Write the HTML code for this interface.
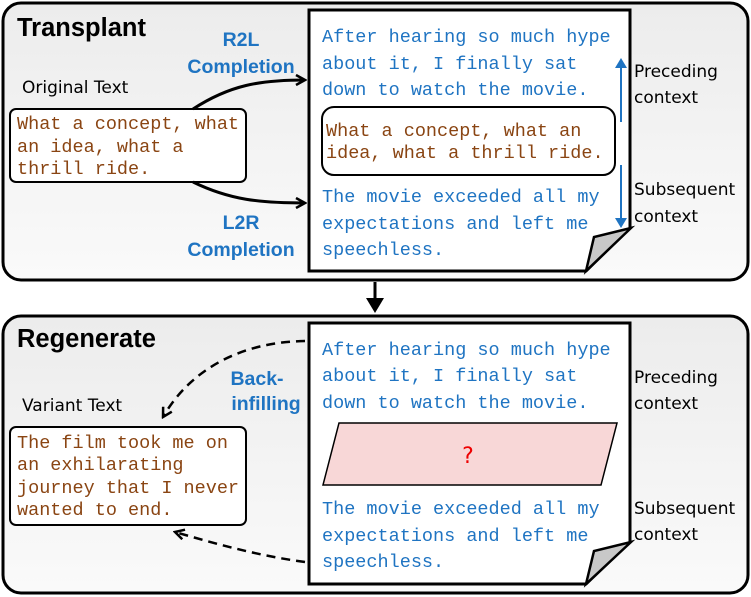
<!DOCTYPE html>
<html><head><meta charset="utf-8"><style>
html,body{margin:0;padding:0;background:#fff}
svg{display:block}
.m{font-family:"Liberation Mono",monospace;font-size:18.5px}
.b{fill:#1f74c2}.r{fill:#8a4513}
.s{font-family:"DejaVu Sans","Liberation Sans",sans-serif;font-size:17px;fill:#000}
.h{font-family:"Liberation Sans",sans-serif;font-weight:bold;font-size:25.5px}
.bl{font-family:"Liberation Sans",sans-serif;font-weight:bold;font-size:19.5px;fill:#1f74c2}
</style></head><body>
<svg width="751" height="597" viewBox="0 0 751 597" xmlns="http://www.w3.org/2000/svg">
<defs>
<linearGradient id="g" x1="0" y1="0" x2="0" y2="1"><stop offset="0" stop-color="#ececec"/><stop offset="1" stop-color="#fafafa"/></linearGradient>
<marker id="ah" markerWidth="12" markerHeight="12" refX="10" refY="6" orient="auto" markerUnits="userSpaceOnUse"><path d="M1,1 L10,6 L1,11" fill="none" stroke="#000" stroke-width="2.5"/></marker>
</defs>
<rect x="3" y="3" width="745" height="277" rx="18" fill="url(#g)" stroke="#000" stroke-width="3"/>
<rect x="3" y="316" width="745" height="277" rx="18" fill="url(#g)" stroke="#000" stroke-width="3"/>
<text x="17" y="36" class="h">Transplant</text>
<text x="17" y="347" class="h">Regenerate</text>
<line x1="375" y1="282" x2="375" y2="300" stroke="#000" stroke-width="3"/>
<path d="M366,298 L384,298 L375,313 z" fill="#000"/>
<path d="M309,10 L630,10 L630,228 L586,271 L309,271 z" fill="#fff" stroke="#000" stroke-width="3"/>
<path d="M586,271 L594,237 L631,228 z" fill="#c8c8c8" stroke="#000" stroke-width="2.5"/>
<g class="m b">
<text x="322" y="42">After hearing so much hype</text>
<text x="322" y="69">about it, I finally sat</text>
<text x="322" y="95">down to watch the movie.</text>
<text x="322" y="202">The movie exceeded all my</text>
<text x="322" y="229">expectations and left me</text>
<text x="322" y="255">speechless.</text>
</g>
<rect x="322" y="107" width="293" height="68" rx="12" fill="#fff" stroke="#000" stroke-width="2"/>
<g class="m r"><text x="326" y="136">What a concept, what an</text><text x="326" y="158">idea, what a thrill ride.</text></g>
<line x1="621" y1="122" x2="621" y2="66" stroke="#1f74c2" stroke-width="2"/>
<path d="M615,68 L627,68 L621,58 z" fill="#1f74c2"/>
<line x1="621" y1="165" x2="621" y2="220" stroke="#1f74c2" stroke-width="2"/>
<path d="M615,218 L627,218 L621,228 z" fill="#1f74c2"/>
<text x="634" y="77" class="s">Preceding</text><text x="634" y="103" class="s">context</text>
<text x="634" y="195" class="s">Subsequent</text><text x="634" y="222" class="s">context</text>
<text x="22" y="93" class="s">Original Text</text>
<rect x="10" y="109" width="236" height="73" rx="6" fill="#fff" stroke="#000" stroke-width="2"/>
<g class="m r"><text x="17" y="129">What a concept, what</text><text x="17" y="152">an idea, what a</text><text x="17" y="174">thrill ride.</text></g>
<path d="M193,109 C230,85 260,80 305,80" fill="none" stroke="#000" stroke-width="3" marker-end="url(#ah)"/>
<path d="M193,182 C230,200 260,203 305,203" fill="none" stroke="#000" stroke-width="3" marker-end="url(#ah)"/>
<text x="241" y="46" class="bl" text-anchor="middle">R2L</text>
<text x="241" y="73" class="bl" text-anchor="middle">Completion</text>
<text x="241" y="229" class="bl" text-anchor="middle">L2R</text>
<text x="241" y="256" class="bl" text-anchor="middle">Completion</text>
<path d="M309,323 L630,323 L630,542 L586,584 L309,584 z" fill="#fff" stroke="#000" stroke-width="3"/>
<path d="M586,584 L594,551 L631,542 z" fill="#c8c8c8" stroke="#000" stroke-width="2.5"/>
<g class="m b">
<text x="322" y="355">After hearing so much hype</text>
<text x="322" y="381">about it, I finally sat</text>
<text x="322" y="408">down to watch the movie.</text>
<text x="322" y="514">The movie exceeded all my</text>
<text x="322" y="541">expectations and left me</text>
<text x="322" y="567">speechless.</text>
</g>
<path d="M339,423 L617,423 L601,485 L323,485 z" fill="#f8d7d7" stroke="#000" stroke-width="1.5"/>
<text x="468" y="463" font-family="DejaVu Sans,sans-serif" font-size="22" fill="#e00" text-anchor="middle">?</text>
<text x="634" y="383" class="s">Preceding</text><text x="634" y="409" class="s">context</text>
<text x="634" y="514" class="s">Subsequent</text><text x="634" y="540" class="s">context</text>
<text x="22" y="411" class="s">Variant Text</text>
<rect x="10" y="427" width="236" height="98" rx="6" fill="#fff" stroke="#000" stroke-width="2"/>
<g class="m r"><text x="17" y="448">The film took me on</text><text x="17" y="470">an exhilarating</text><text x="17" y="493">journey that I never</text><text x="17" y="515">wanted to end.</text></g>
<path d="M305,341 C240,342 190,370 163,417" fill="none" stroke="#000" stroke-width="2.5" stroke-dasharray="9,6" marker-end="url(#ah)"/>
<path d="M305,562 C260,556 220,545 175,532" fill="none" stroke="#000" stroke-width="2.5" stroke-dasharray="9,6" marker-end="url(#ah)"/>
<text x="257" y="385" class="bl" text-anchor="middle">Back-</text>
<text x="266" y="410" class="bl" text-anchor="middle">infilling</text>
</svg>
</body></html>
